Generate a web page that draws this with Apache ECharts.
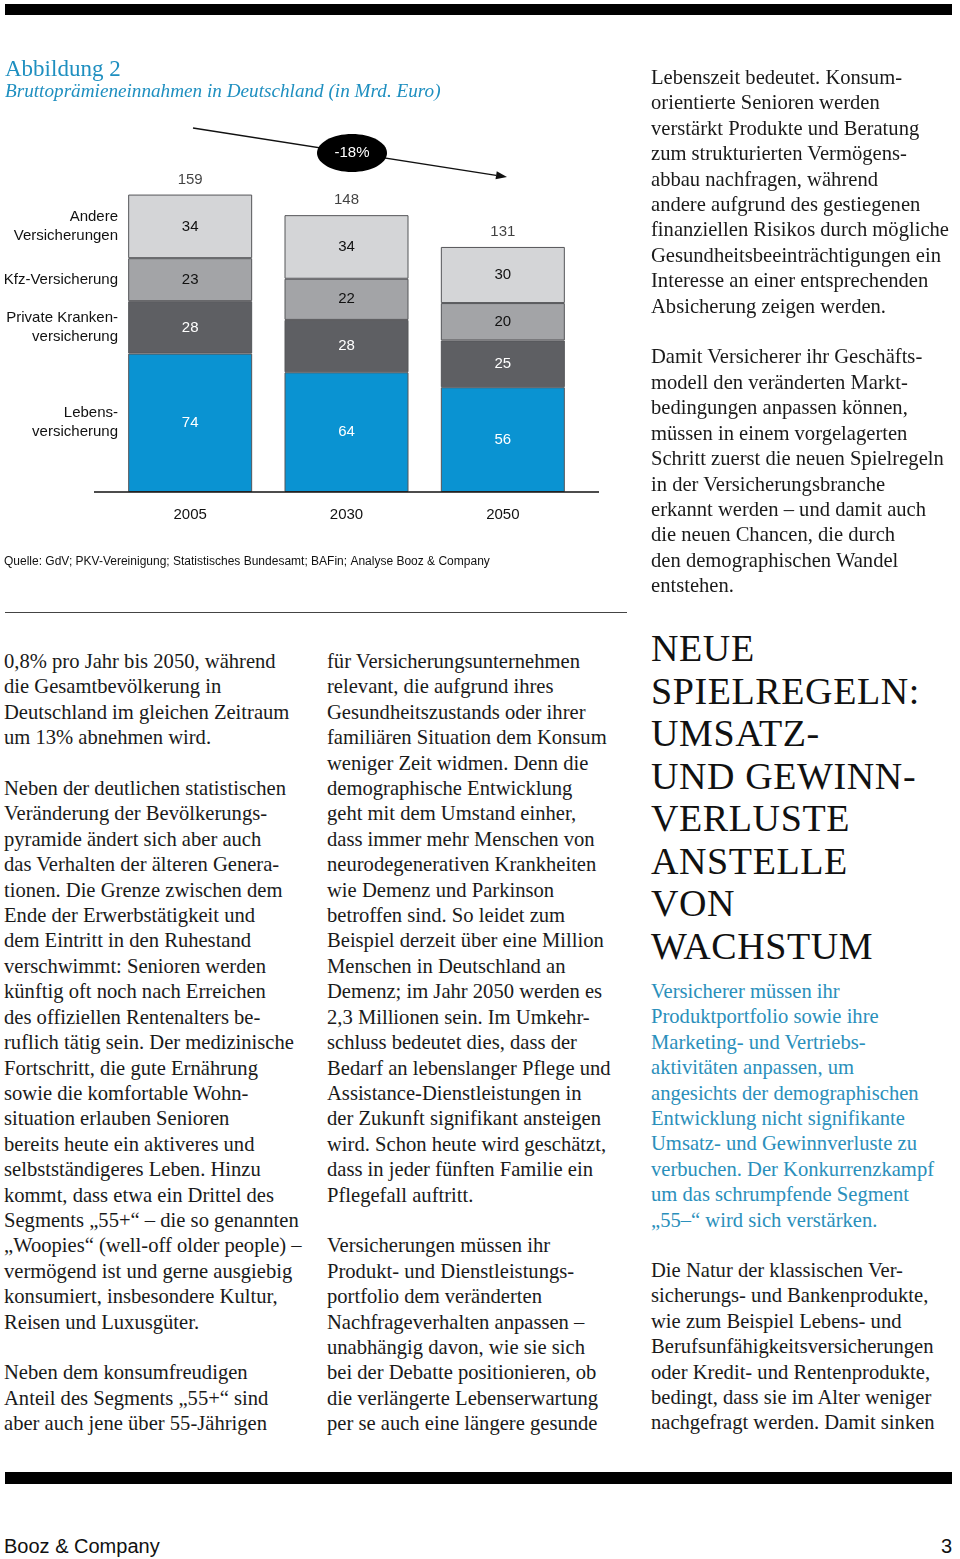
<!DOCTYPE html>
<html>
<head>
<meta charset="utf-8">
<script src="https://cdn.jsdelivr.net/npm/echarts@6/dist/echarts.min.js"></script>
<style>
html,body{margin:0;padding:0;background:#fff;}
body{width:960px;height:1559px;position:relative;overflow:hidden;}
#chart{position:absolute;left:0;top:0;width:960px;height:620px;}
.txt{position:absolute;white-space:pre;font-family:"Liberation Serif","Times New Roman",serif;font-size:20.6px;line-height:25.4px;color:#1a1a1a;}
.blue{color:#2a8fbb;}
.head{position:absolute;white-space:pre;font-family:"Liberation Serif","Times New Roman",serif;font-size:38px;line-height:42.5px;color:#111;letter-spacing:0.6px;}
.bar{position:absolute;left:5px;width:947px;background:#000;}
.sans{position:absolute;font-family:"Liberation Sans",Arial,sans-serif;color:#111;}
</style>
</head>
<body>
<div class="bar" style="top:4px;height:11px;"></div>
<div id="chart"></div>
<div style="position:absolute;left:5px;top:612px;width:622px;height:1px;background:#444;"></div>

<div class="txt" style="left:651px;top:65px;">Lebenszeit bedeutet. Konsum-
orientierte Senioren werden
verstärkt Produkte und Beratung
zum strukturierten Vermögens-
abbau nachfragen, während
andere aufgrund des gestiegenen
finanziellen Risikos durch mögliche
Gesundheitsbeeinträchtigungen ein
Interesse an einer entsprechenden
Absicherung zeigen werden.

Damit Versicherer ihr Geschäfts-
modell den veränderten Markt-
bedingungen anpassen können,
müssen in einem vorgelagerten
Schritt zuerst die neuen Spielregeln
in der Versicherungsbranche
erkannt werden – und damit auch
die neuen Chancen, die durch
den demographischen Wandel
entstehen.</div>

<div class="txt" style="left:4px;top:649px;">0,8% pro Jahr bis 2050, während
die Gesamtbevölkerung in
Deutschland im gleichen Zeitraum
um 13% abnehmen wird.

Neben der deutlichen statistischen
Veränderung der Bevölkerungs-
pyramide ändert sich aber auch
das Verhalten der älteren Genera-
tionen. Die Grenze zwischen dem
Ende der Erwerbstätigkeit und
dem Eintritt in den Ruhestand
verschwimmt: Senioren werden
künftig oft noch nach Erreichen
des offiziellen Rentenalters be-
ruflich tätig sein. Der medizinische
Fortschritt, die gute Ernährung
sowie die komfortable Wohn-
situation erlauben Senioren
bereits heute ein aktiveres und
selbstständigeres Leben. Hinzu
kommt, dass etwa ein Drittel des
Segments „55+“ – die so genannten
„Woopies“ (well-off older people) –
vermögend ist und gerne ausgiebig
konsumiert, insbesondere Kultur,
Reisen und Luxusgüter.

Neben dem konsumfreudigen
Anteil des Segments „55+“ sind
aber auch jene über 55-Jährigen</div>

<div class="txt" style="left:327px;top:649px;">für Versicherungsunternehmen
relevant, die aufgrund ihres
Gesundheitszustands oder ihrer
familiären Situation dem Konsum
weniger Zeit widmen. Denn die
demographische Entwicklung
geht mit dem Umstand einher,
dass immer mehr Menschen von
neurodegenerativen Krankheiten
wie Demenz und Parkinson
betroffen sind. So leidet zum
Beispiel derzeit über eine Million
Menschen in Deutschland an
Demenz; im Jahr 2050 werden es
2,3 Millionen sein. Im Umkehr-
schluss bedeutet dies, dass der
Bedarf an lebenslanger Pflege und
Assistance-Dienstleistungen in
der Zukunft signifikant ansteigen
wird. Schon heute wird geschätzt,
dass in jeder fünften Familie ein
Pflegefall auftritt.

Versicherungen müssen ihr
Produkt- und Dienstleistungs-
portfolio dem veränderten
Nachfrageverhalten anpassen –
unabhängig davon, wie sie sich
bei der Debatte positionieren, ob
die verlängerte Lebenserwartung
per se auch eine längere gesunde</div>

<div class="head" style="left:651px;top:627px;">NEUE
SPIELREGELN:
UMSATZ-
UND GEWINN-
VERLUSTE
ANSTELLE
VON
WACHSTUM</div>

<div class="txt blue" style="left:651px;top:979px;">Versicherer müssen ihr
Produktportfolio sowie ihre
Marketing- und Vertriebs-
aktivitäten anpassen, um
angesichts der demographischen
Entwicklung nicht signifikante
Umsatz- und Gewinnverluste zu
verbuchen. Der Konkurrenzkampf
um das schrumpfende Segment
„55–“ wird sich verstärken.</div>

<div class="txt" style="left:651px;top:1258px;">Die Natur der klassischen Ver-
sicherungs- und Bankenprodukte,
wie zum Beispiel Lebens- und
Berufsunfähigkeitsversicherungen
oder Kredit- und Rentenprodukte,
bedingt, dass sie im Alter weniger
nachgefragt werden. Damit sinken</div>

<div class="bar" style="top:1472px;height:12px;"></div>
<div class="sans" style="left:4px;top:1533px;font-size:20px;line-height:26px;">Booz &amp; Company</div>
<div class="sans" style="left:941px;top:1533px;font-size:20px;line-height:26px;">3</div>

<script>
// ---- data ----
var years = ['2005', '2030', '2050'];
var seriesNames = ['Lebens-\nversicherung', 'Private Kranken-\nversicherung', 'Kfz-Versicherung', 'Andere\nVersicherungen'];
var leben = [74, 64, 56];
var pkv = [28, 28, 25];
var kfz = [23, 22, 20];
var andere = [34, 34, 30];
var totals = [159, 148, 131];
var changeLabel = '-18%';

var colors = ['#0a93d2', '#5e5f63', '#a3a4a7', '#d4d5d7'];
var labelColors = ['#fff', '#fff', '#111', '#111'];
var values = [leben, pkv, kfz, andere];

var FONT = '"Liberation Sans", Arial, Helvetica, sans-serif';
var SERIF = '"Liberation Serif", "Times New Roman", serif';
var chart = echarts.init(document.getElementById('chart'), null, {renderer: 'canvas'});

var series = values.map(function (vals, i) {
  return {
    name: seriesNames[i],
    type: 'bar',
    stack: 'total',
    barWidth: 124,
    data: vals,
    itemStyle: {color: colors[i], borderColor: '#555659', borderWidth: 1},
    label: {show: true, position: 'inside', color: labelColors[i], fontFamily: FONT, fontSize: 15},
    emphasis: {disabled: true}
  };
});
series.push({
  name: 'Gesamt',
  type: 'scatter',
  data: totals,
  symbolSize: 1,
  itemStyle: {color: 'rgba(0,0,0,0)'},
  label: {show: true, position: 'top', distance: 7, color: '#111', fontFamily: FONT, fontSize: 15,
    formatter: function (p) { return totals[p.dataIndex]; }},
  emphasis: {disabled: true},
  z: 5
});

chart.setOption({
  animation: false,
  title: [
    {text: 'Abbildung 2', left: 5, top: 58, padding: 0,
      textStyle: {fontFamily: SERIF, fontSize: 23, fontWeight: 'normal', color: '#1e8fc0'}},
    {text: 'Bruttoprämieneinnahmen in Deutschland (in Mrd. Euro)', left: 5, top: 82, padding: 0,
      textStyle: {fontFamily: SERIF, fontSize: 19.2, fontStyle: 'italic', fontWeight: 'normal', color: '#1e8fc0'}}
  ],
  grid: {left: 112, width: 469, top: 174, height: 318},
  xAxis: {
    type: 'category', data: years,
    axisLine: {show: false}, axisTick: {show: false},
    axisLabel: {margin: 15, color: '#111', fontFamily: FONT, fontSize: 15}
  },
  yAxis: {type: 'value', min: 0, max: 170, show: false, splitLine: {show: false}},
  series: series
});

// graphic elements placed through the chart's own scales
function px(cat, val) { return chart.convertToPixel({gridIndex: 0}, [cat, val]); }
var base0 = px(0, 0);
var graphics = [];
// baseline
graphics.push({type: 'line', shape: {x1: 94, y1: base0[1], x2: 599, y2: base0[1]}, style: {stroke: '#111', lineWidth: 1.5}, z: 10});
// left category labels at mid of 2005 segments
var cum = 0;
values.forEach(function (vals, i) {
  var mid = cum + vals[0] / 2;
  cum += vals[0];
  var p = px(0, mid);
  graphics.push({type: 'text', x: 118, y: p[1], style: {text: seriesNames[i], align: 'right', verticalAlign: 'middle',
    fontFamily: FONT, fontSize: 15, lineHeight: 19, fill: '#111'}});
});
// arrow and ellipse
var ax1 = 193, ay1 = 128, ax2 = 507, ay2 = 177;
var ang = Math.atan2(ay2 - ay1, ax2 - ax1);
var hl = 11, hw = 4;
var bx = ax2 - hl * Math.cos(ang), by = ay2 - hl * Math.sin(ang);
graphics.push({type: 'line', shape: {x1: ax1, y1: ay1, x2: bx, y2: by}, style: {stroke: '#111', lineWidth: 1.3}});
graphics.push({type: 'polygon', shape: {points: [[ax2, ay2], [bx - hw * Math.sin(ang), by + hw * Math.cos(ang)], [bx + hw * Math.sin(ang), by - hw * Math.cos(ang)]]}, style: {fill: '#111'}});
graphics.push({type: 'ellipse', shape: {cx: 352, cy: 153, rx: 35, ry: 19}, style: {fill: '#000'}, z: 20});
graphics.push({type: 'text', x: 352, y: 153, z: 21, style: {text: changeLabel, align: 'center', verticalAlign: 'middle', fontFamily: FONT, fontSize: 15, fill: '#fff'}});
// source
graphics.push({type: 'text', x: 4, y: 562, style: {text: 'Quelle: GdV; PKV-Vereinigung; Statistisches Bundesamt; BAFin; Analyse Booz & Company',
  verticalAlign: 'middle', fontFamily: FONT, fontSize: 12, fill: '#111'}});
chart.setOption({graphic: graphics});
</script>
</body>
</html>
